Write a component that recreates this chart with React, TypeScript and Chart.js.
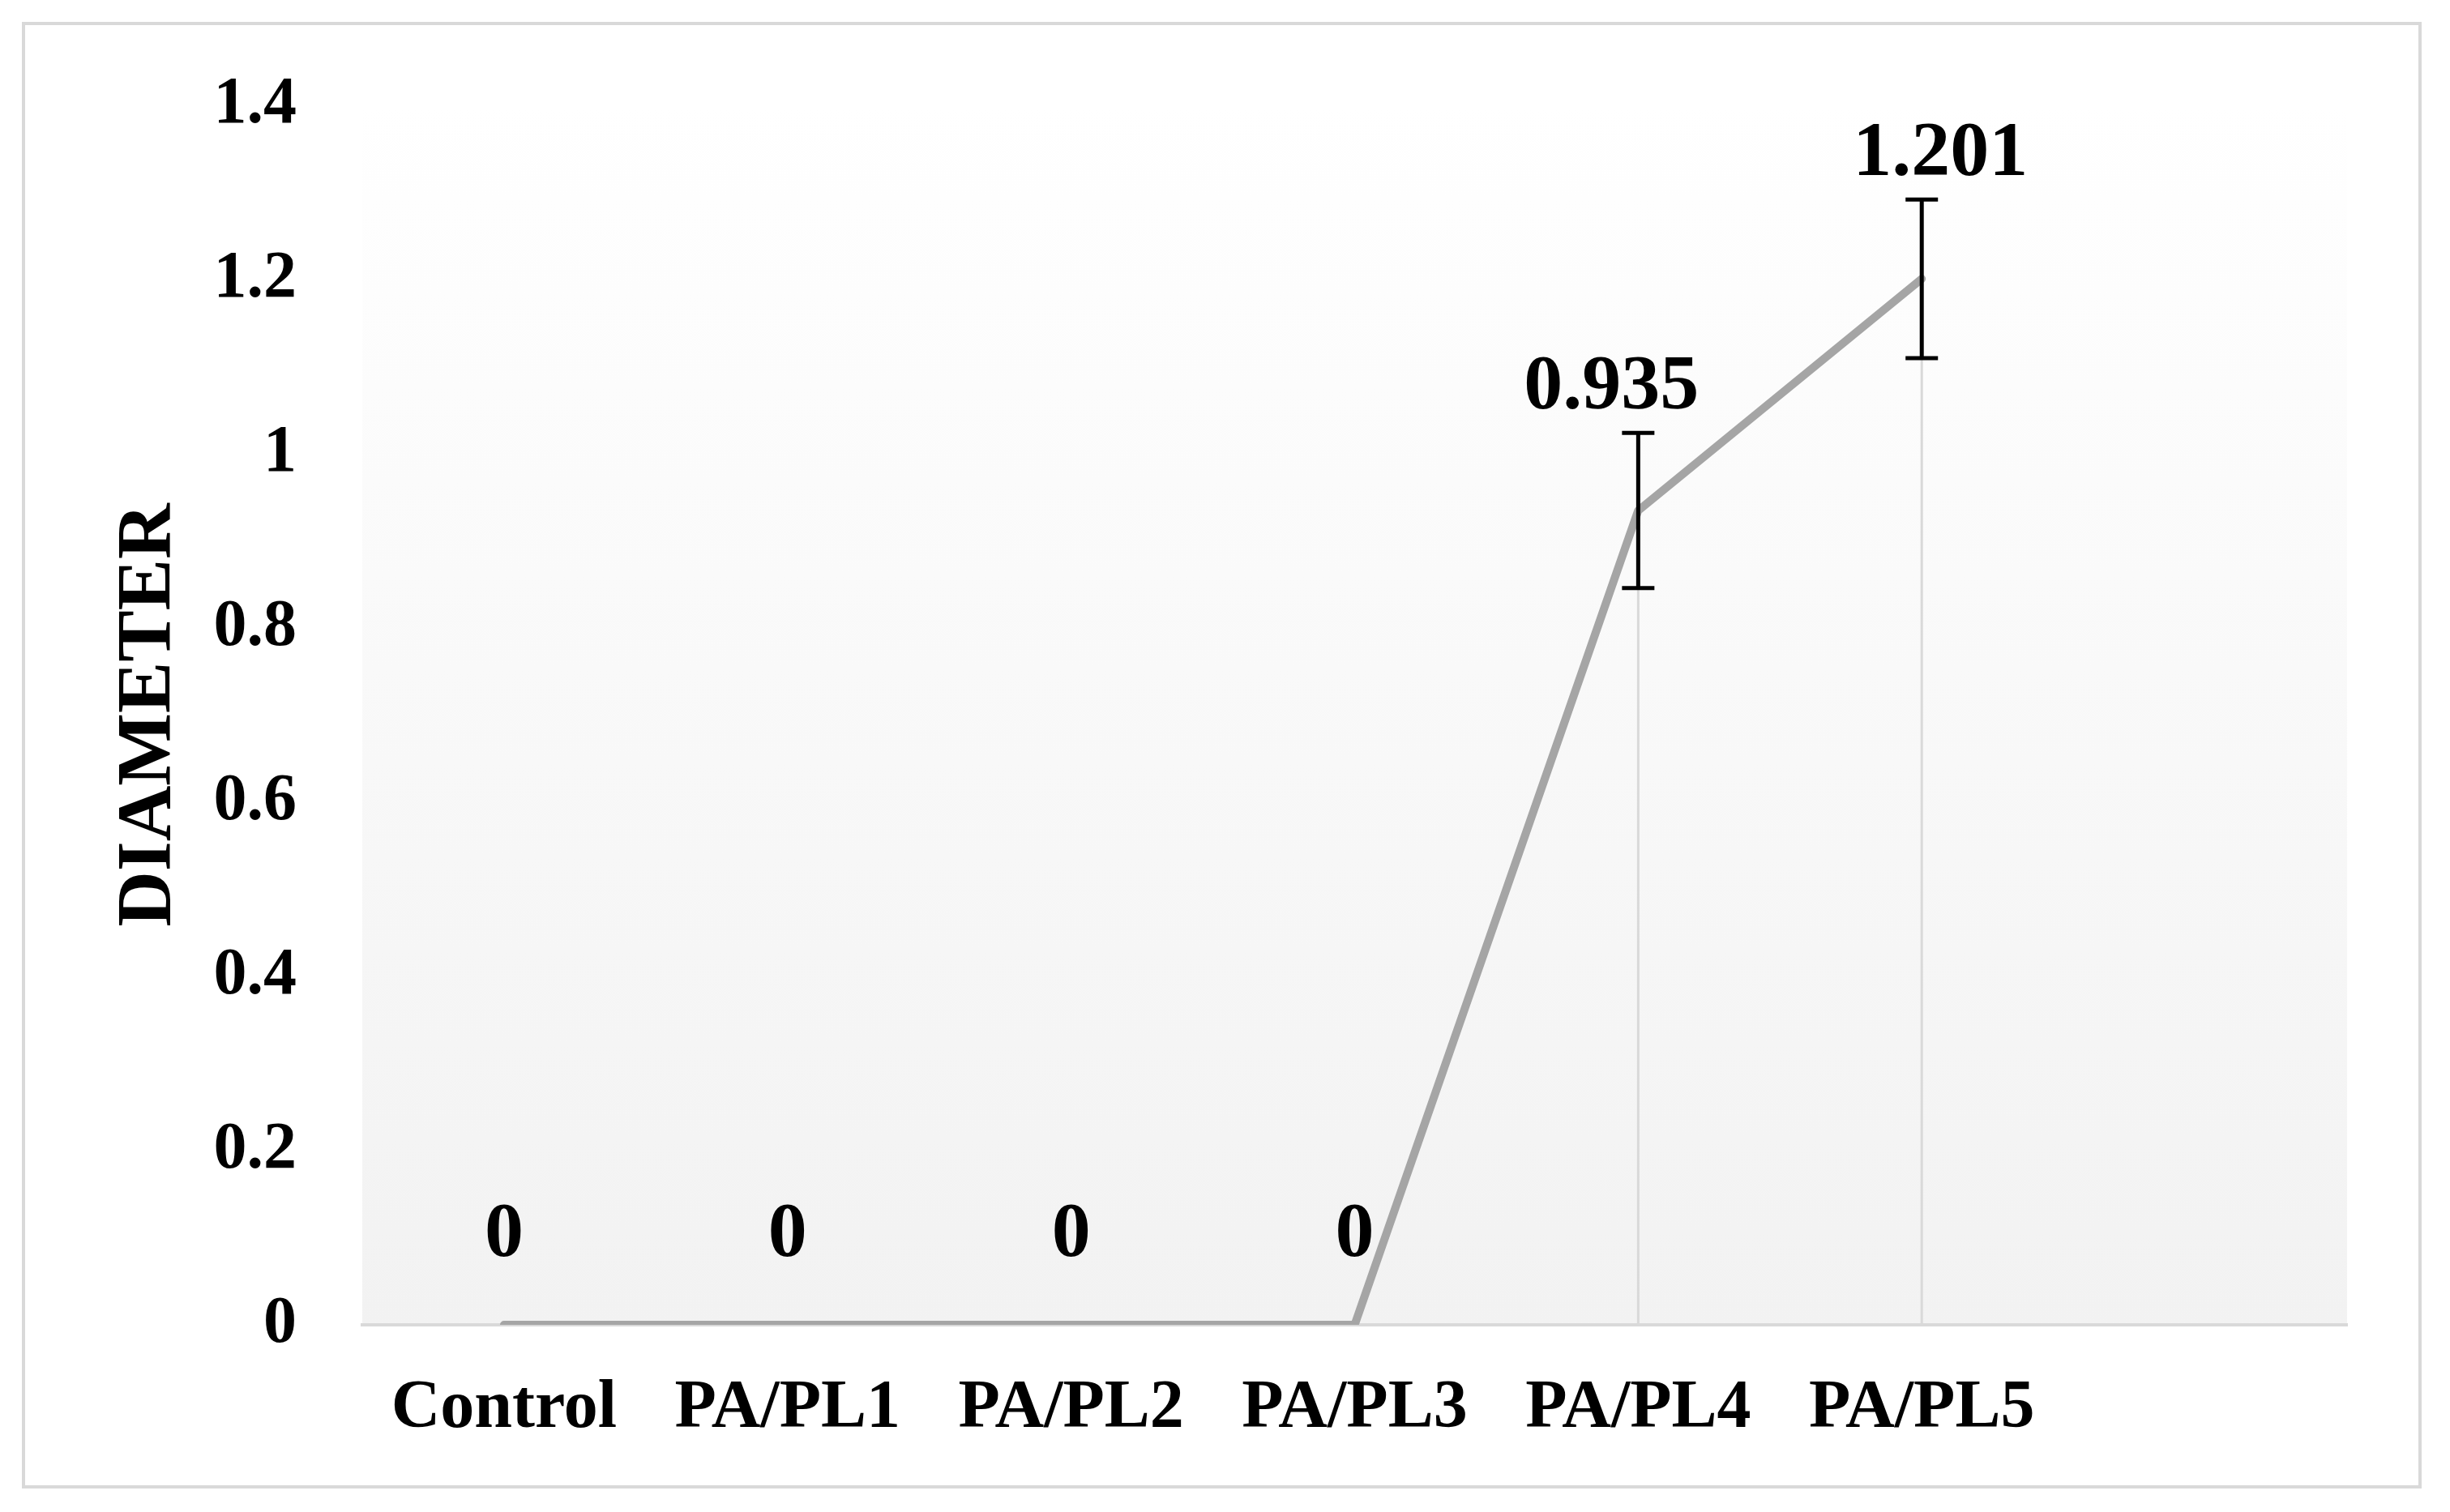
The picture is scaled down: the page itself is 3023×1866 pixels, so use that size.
import React, { useEffect, useRef } from 'react';
import { Chart, registerables } from 'chart.js';

Chart.register(...registerables);

const categories = ['Control', 'PA/PL1', 'PA/PL2', 'PA/PL3', 'PA/PL4', 'PA/PL5', ''];
const diameter: (number | null)[] = [0, 0, 0, 0, 0.935, 1.201, null];
const errorValues: (number | null)[] = [0, 0, 0, 0, 0.089, 0.091, null];
const dataLabels = ['0', '0', '0', '0', '0.935', '1.201', ''];
const yTickValues = [0, 0.2, 0.4, 0.6, 0.8, 1, 1.2, 1.4];
const yAxisTitle = 'DIAMETER';

const FONT = '"Liberation Serif", "Times New Roman", serif';
const W = 3023;
const H = 1866;
// small horizontal nudges of data labels (style only)
const labelDx = [0, 0, 0, 0, -33, 23, 0];

export default function App() {
  const ref = useRef<HTMLCanvasElement | null>(null);

  useEffect(() => {
    const canvas = ref.current;
    if (!canvas) return;

    const bgPlugin = {
      id: 'bgPlugin',
      beforeDraw(chart: any) {
        const { ctx, chartArea: a } = chart;
        ctx.save();
        ctx.fillStyle = '#ffffff';
        ctx.fillRect(0, 0, chart.width, chart.height);
        const g = ctx.createLinearGradient(0, a.top, 0, a.bottom);
        g.addColorStop(0, '#ffffff');
        g.addColorStop(1, '#f2f2f2');
        ctx.fillStyle = g;
        ctx.fillRect(a.left, a.top, a.right - a.left, a.bottom - a.top);
        ctx.strokeStyle = '#d9d9d9';
        ctx.lineWidth = 4;
        ctx.strokeRect(29, 29, 2957, 1806);
        ctx.restore();
      },
    };

    const dropLinePlugin = {
      id: 'dropLines',
      beforeDatasetsDraw(chart: any) {
        const { ctx } = chart;
        const meta = chart.getDatasetMeta(0);
        const y0 = chart.scales.y.getPixelForValue(0);
        ctx.save();
        ctx.strokeStyle = '#d9d9d9';
        ctx.lineWidth = 3;
        meta.data.forEach((pt: any, i: number) => {
          if (diameter[i] == null) return;
          ctx.beginPath();
          ctx.moveTo(pt.x, pt.y);
          ctx.lineTo(pt.x, y0);
          ctx.stroke();
        });
        ctx.restore();
      },
    };

    const errorLabelPlugin = {
      id: 'errorLabels',
      afterDatasetsDraw(chart: any) {
        const { ctx } = chart;
        const meta = chart.getDatasetMeta(0);
        const ys = chart.scales.y;
        ctx.save();
        ctx.strokeStyle = '#000000';
        ctx.lineWidth = 5;
        meta.data.forEach((pt: any, i: number) => {
          const v = diameter[i];
          const e = errorValues[i];
          if (v == null || !e) return;
          const yTop = ys.getPixelForValue(v + e);
          const yBot = ys.getPixelForValue(v - e);
          ctx.beginPath();
          ctx.moveTo(pt.x, yTop);
          ctx.lineTo(pt.x, yBot);
          ctx.moveTo(pt.x - 20, yTop);
          ctx.lineTo(pt.x + 20, yTop);
          ctx.moveTo(pt.x - 20, yBot);
          ctx.lineTo(pt.x + 20, yBot);
          ctx.stroke();
        });
        ctx.fillStyle = '#000000';
        ctx.font = `bold 96px ${FONT}`;
        ctx.textAlign = 'center';
        ctx.textBaseline = 'middle';
        meta.data.forEach((pt: any, i: number) => {
          const v = diameter[i];
          if (v == null) return;
          const e = errorValues[i] || 0;
          const y = e > 0 ? ys.getPixelForValue(v + e) - 55 : ys.getPixelForValue(v) - 110;
          ctx.fillText(dataLabels[i], pt.x + labelDx[i], y);
        });
        ctx.restore();
      },
    };

    const chart = new Chart(canvas, {
      type: 'line',
      data: {
        labels: categories,
        datasets: [
          {
            label: 'Diameter',
            data: diameter,
            borderColor: '#a5a5a5',
            backgroundColor: '#a5a5a5',
            borderWidth: 10,
            pointRadius: 0,
            pointHoverRadius: 0,
            tension: 0,
            spanGaps: false,
            borderJoinStyle: 'round',
            borderCapStyle: 'round',
          },
        ],
      },
      options: {
        animation: false,
        responsive: false,
        events: [],
        layout: { padding: { left: 0, right: 127, top: 115, bottom: 0 } },
        plugins: {
          legend: { display: false },
          tooltip: { enabled: false },
          title: { display: false },
        },
        scales: {
          x: {
            type: 'category',
            offset: true,
            grid: { display: false, drawTicks: false },
            border: { display: true, color: '#d9d9d9', width: 4 },
            ticks: {
              color: '#000000',
              font: { family: FONT, size: 84, weight: 'bold' },
              padding: 54,
              maxRotation: 0,
              autoSkip: false,
            },
            afterFit(scale: any) {
              scale.height = 231;
            },
          },
          y: {
            min: 0,
            max: 1.4,
            grid: { display: false, drawTicks: false },
            border: { display: false },
            afterBuildTicks(scale: any) {
              scale.ticks = yTickValues.map((v) => ({ value: v }));
            },
            ticks: {
              color: '#000000',
              font: { family: FONT, size: 82, weight: 'bold' },
              padding: 81,
              callback: (v: any) => String(Math.round(Number(v) * 10) / 10),
            },
            title: {
              display: true,
              text: yAxisTitle,
              color: '#000000',
              font: { family: FONT, size: 95, weight: 'bold' },
              padding: { top: 128, bottom: 0 },
            },
            afterFit(scale: any) {
              scale.width = 447;
            },
          },
        },
      },
      plugins: [bgPlugin, dropLinePlugin, errorLabelPlugin],
    } as any);

    return () => {
      chart.destroy();
    };
  }, []);

  return (
    <div style={{ position: 'absolute', left: 0, top: 0, width: W, height: H, background: '#ffffff' }}>
      <canvas ref={ref} width={W} height={H} style={{ display: 'block', width: W, height: H }} />
    </div>
  );
}
